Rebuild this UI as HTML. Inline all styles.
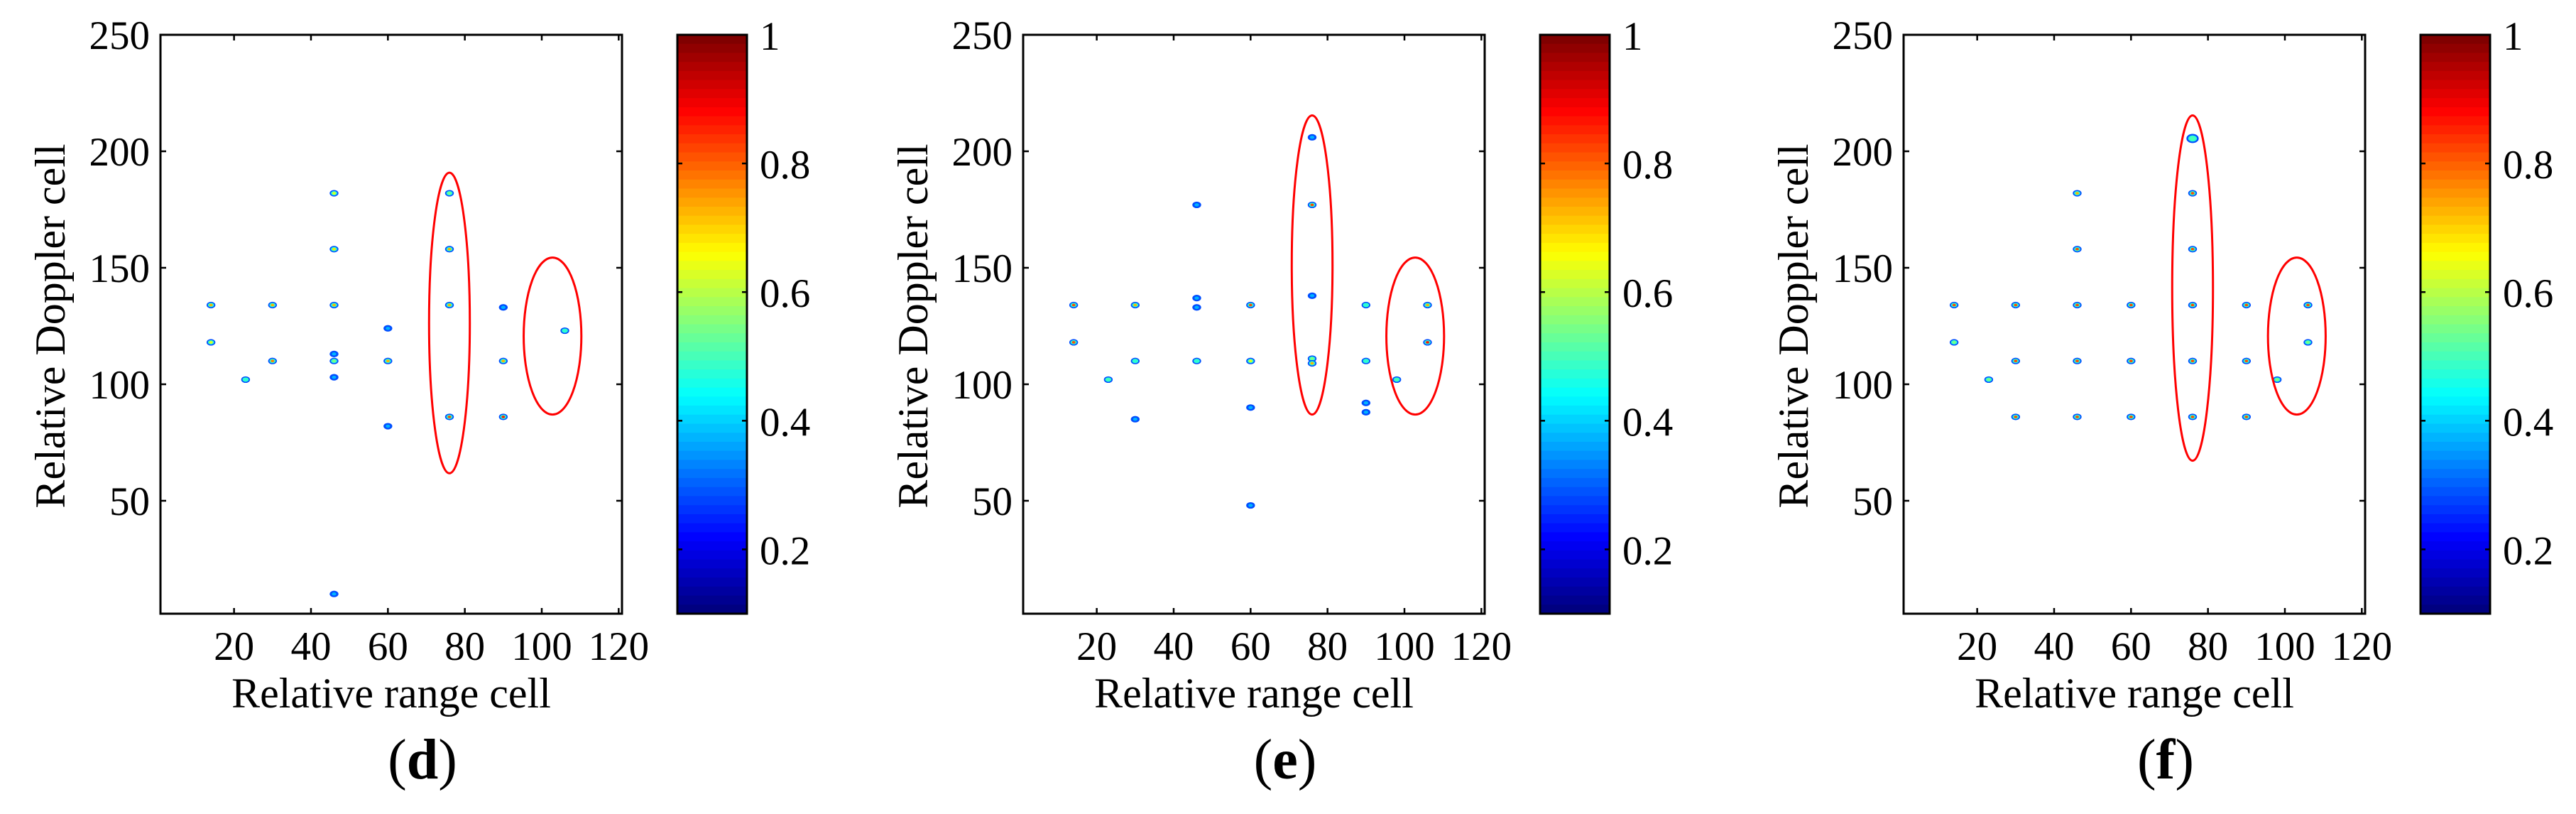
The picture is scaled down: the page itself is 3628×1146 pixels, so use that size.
<!DOCTYPE html>
<html><head><meta charset="utf-8">
<style>
html,body{margin:0;padding:0;background:#fff;font-family:"Liberation Serif","Times New Roman",Times,"DejaVu Serif",serif;}
svg{display:block;}
svg text, svg tspan{font-family:"Liberation Serif","Times New Roman",Times,"DejaVu Serif",serif !important;fill:#000;}
</style></head>
<body>
<svg id="fig" width="3628" height="1146" viewBox="0 0 3628 1146" xmlns="http://www.w3.org/2000/svg" style="font-family:'Liberation Serif','Times New Roman',Times,serif"></svg>
<script>
// ---- data ----
const panelLabels = ["d", "e", "f"];
const xTicks = [20, 40, 60, 80, 100, 120];
const yTicks = [50, 100, 150, 200, 250];
const cbTicks = [0.2, 0.4, 0.6, 0.8, 1];
const cbTickLabels = ["0.2", "0.4", "0.6", "0.8", "1"];
// panel d
const dRange   = [14,14,23,30,30,46,46,46,46,46,46,46,60,60,60,76,76,76,76,90,90,90,106];
const dDoppler = [134,118,102,134,110,182,158,134,113,110,103,10,124,110,82,182,158,134,86,133,110,86,123];
const dPeak    = [0.7,0.6,0.3,0.7,0.75,0.6,0.65,0.7,0.25,0.5,0.25,0.2,0.2,0.7,0.2,0.5,0.7,0.7,0.8,0.25,0.7,0.85,0.3];
// panel e
const eRange   = [14,14,23,30,30,30,46,46,46,46,60,60,60,60,76,76,76,76,76,90,90,90,90,98,106,106];
const eDoppler = [134,118,102,134,110,85,177,137,133,110,134,110,90,48,206,177,138,111,109,134,110,92,88,102,134,118];
const ePeak    = [0.8,0.8,0.45,0.7,0.35,0.25,0.2,0.25,0.25,0.4,0.8,0.6,0.25,0.2,0.2,0.8,0.2,0.5,0.7,0.4,0.4,0.25,0.25,0.45,0.7,0.85];
// panel f
const fRange   = [14,14,23,30,30,30,46,46,46,46,46,60,60,60,76,76,76,76,76,76,90,90,90,98,106,106];
const fDoppler = [134,118,102,134,110,86,182,158,134,110,86,134,110,86,205.5,182,158,134,110,86,134,110,86,102,134,118];
const fPeak    = [0.8,0.5,0.5,0.8,0.8,0.8,0.7,0.8,0.8,0.8,0.8,0.8,0.8,0.8,0.45,0.8,0.8,0.8,0.8,0.8,0.8,0.8,0.8,0.5,0.8,0.5];
// ellipses: [centerRange, centerDoppler, radiusRange, radiusDoppler]
const dEllipses = [[76,126.3,5.3,64.5],[102.8,120.7,7.5,33.7]];
const eEllipses = [[76,151.2,5.3,64.2],[102.8,120.7,7.5,33.7]];
const fEllipses = [[76,141.3,5.3,74.1],[103.1,120.7,7.5,33.7]];

const panels = [
  {range:dRange, doppler:dDoppler, peak:dPeak, ell:dEllipses},
  {range:eRange, doppler:eDoppler, peak:ePeak, ell:eEllipses},
  {range:fRange, doppler:fDoppler, peak:fPeak, ell:fEllipses}
];
const offsets = [0, 1215, 2455];

// ---- helpers ----
const NS = "http://www.w3.org/2000/svg";
const FONT = "'Liberation Serif', 'Times New Roman', Times, serif";
const svg = document.getElementById("fig");
function mk(tag, attrs, parent){
  const e = document.createElementNS(NS, tag);
  for (const k in attrs) e.setAttribute(k, attrs[k]);
  if (tag === "text") e.setAttribute("style", "font-family:" + FONT);
  (parent || svg).appendChild(e);
  return e;
}
function jet(v){
  const c = x => Math.max(0, Math.min(1, x));
  const r = c(1.5 - Math.abs(4*v - 3));
  const g = c(1.5 - Math.abs(4*v - 2));
  const b = c(1.5 - Math.abs(4*v - 1));
  return `rgb(${Math.round(r*255)},${Math.round(g*255)},${Math.round(b*255)})`;
}
const X0 = 221.3, XS = 5.417;
const Y0 = 869, YS = 3.28;
const AX_L = 226, AX_R = 876, AX_T = 49, AX_B = 864;
const CB_L = 954, CB_R = 1052, CB_MIN = 0.1, CB_MAX = 1;
function xs(v, off){ return off + X0 + v*XS; }
function ys(v){ return Y0 - v*YS; }
function cbY(v){ return AX_T + (CB_MAX - v)/(CB_MAX - CB_MIN)*(AX_B - AX_T); }

panels.forEach((p, pi) => {
  const off = offsets[pi];
  const g = mk("g", {});
  
  

  p.range.forEach((r, i) => {
    const cx = xs(r, off), cy = ys(p.doppler[i]);
    const pk = p.peak[i];
    const big = pk < 0.5 && pi === 2 && p.doppler[i] > 200 ? 1.4 : 1;
    const dg = mk("g", {}, g);
    
    
    mk("ellipse", {cx, cy, rx: 6.2*big, ry: 4.6*big, fill: jet(0.2)}, dg);
    if (pk >= 0.3) mk("ellipse", {cx, cy, rx: 4.4*big, ry: 3.1*big, fill: jet(0.42)}, dg);
    else mk("ellipse", {cx, cy, rx: 3.2*big, ry: 2.2*big, fill: jet(0.3)}, dg);
    if (pk >= 0.45) mk("ellipse", {cx, cy, rx: 2.5*big, ry: 1.8*big, fill: jet(pk)}, dg);
  });

  p.ell.forEach(e => {
    const el = mk("ellipse", {cx: xs(e[0], off), cy: ys(e[1]), rx: e[2]*XS, ry: e[3]*YS,
      fill: "none", stroke: "#ff0000", "stroke-width": 3}, g);
    
    
  });

  const box = mk("rect", {x: off+AX_L, y: AX_T, width: AX_R-AX_L, height: AX_B-AX_T,
    fill: "none", stroke: "#000", "stroke-width": 3}, g);
  
  

  xTicks.forEach(t => {
    const x = xs(t, off);
    mk("line", {x1: x, x2: x, y1: AX_B, y2: AX_B-8, stroke: "#000", "stroke-width": 2.5}, g);
    mk("line", {x1: x, x2: x, y1: AX_T, y2: AX_T+8, stroke: "#000", "stroke-width": 2.5}, g);
    const tl = mk("text", {x, y: 929, "text-anchor": "middle", "font-size": 57}, g);
    tl.textContent = t;
    
    
  });
  yTicks.forEach(t => {
    const y = ys(t);
    mk("line", {x1: off+AX_L, x2: off+AX_L+8, y1: y, y2: y, stroke: "#000", "stroke-width": 2.5}, g);
    mk("line", {x1: off+AX_R, x2: off+AX_R-8, y1: y, y2: y, stroke: "#000", "stroke-width": 2.5}, g);
    const tl = mk("text", {x: off+211, y: y+20, "text-anchor": "end", "font-size": 57}, g);
    tl.textContent = t;
    
    
  });

  const xt = mk("text", {x: off+551, y: 996, "text-anchor": "middle", "font-size": 60}, g);
  xt.textContent = "Relative range cell";
  
  
  const yt = mk("text", {x: 0, y: 0, "text-anchor": "middle", "font-size": 60,
    transform: `translate(${off+91},459) rotate(-90)`}, g);
  yt.textContent = "Relative Doppler cell";
  
  

  const pl = mk("text", {x: off+595, y: 1096, "text-anchor": "middle", "font-size": 80}, g);
  
  
  const t1 = mk("tspan", {}, pl); t1.textContent = "(";
  const t2 = mk("tspan", {"font-weight": "bold"}, pl); t2.textContent = panelLabels[pi];
  const t3 = mk("tspan", {}, pl); t3.textContent = ")";

  const cb = mk("g", {}, g);
  
  
  const n = 64;
  const h = (AX_B - AX_T) / n;
  for (let k = 0; k < n; k++) {
    const frac = (n - 1 - k) / (n - 1);
    mk("rect", {x: off+CB_L, y: AX_T + k*h, width: CB_R-CB_L, height: h+0.6, fill: jet(frac)}, cb);
  }
  mk("rect", {x: off+CB_L, y: AX_T, width: CB_R-CB_L, height: AX_B-AX_T, fill: "none",
    stroke: "#000", "stroke-width": 3}, cb);
  cbTicks.forEach((t, k) => {
    const y = cbY(t);
    if (t < 1) {
      mk("line", {x1: off+CB_L, x2: off+CB_L+7, y1: y, y2: y, stroke: "#000", "stroke-width": 2.5}, cb);
      mk("line", {x1: off+CB_R, x2: off+CB_R-7, y1: y, y2: y, stroke: "#000", "stroke-width": 2.5}, cb);
    }
    const tl = mk("text", {x: off+1070, y: y+21, "font-size": 57}, cb);
    tl.textContent = cbTickLabels[k];
    
    
  });
});
</script>
</body></html>
